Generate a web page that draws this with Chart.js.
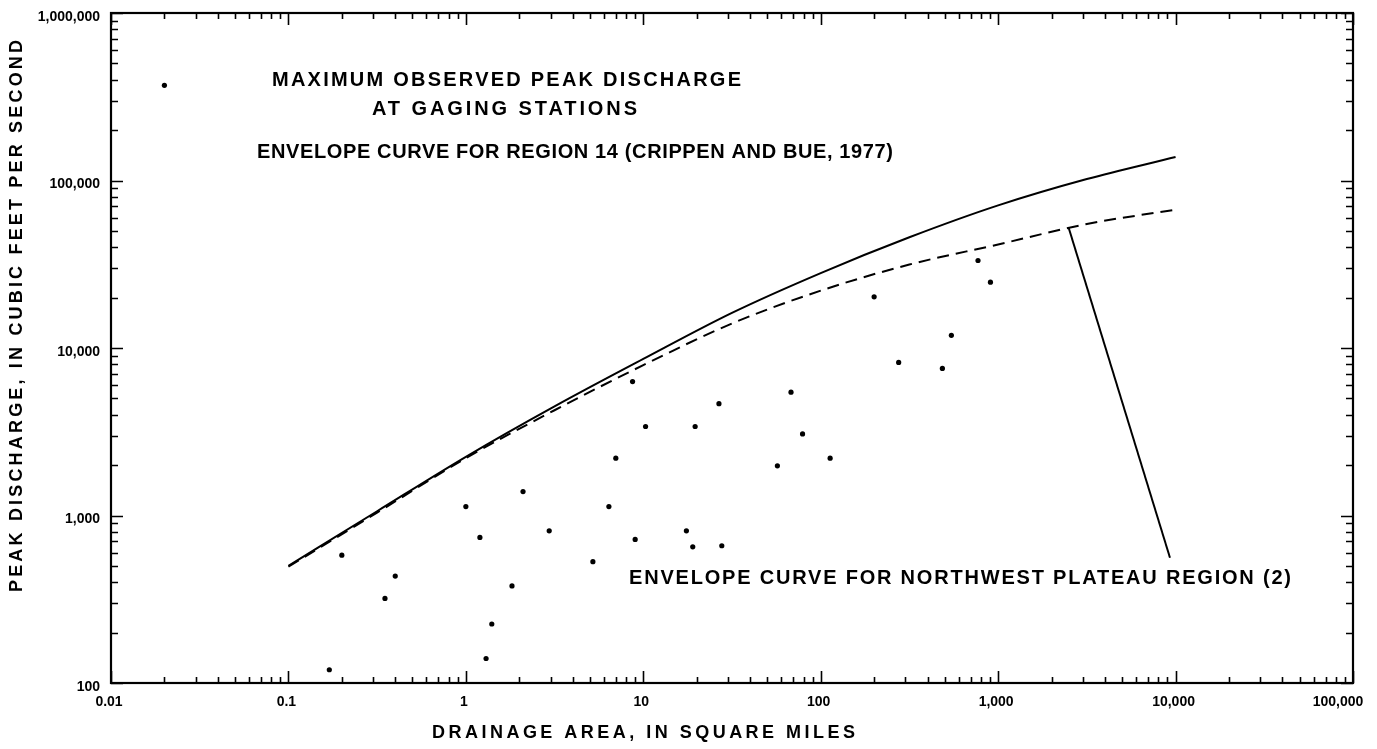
<!DOCTYPE html>
<html><head><meta charset="utf-8">
<script src="https://cdn.jsdelivr.net/npm/chart.js@4.4.1/dist/chart.umd.min.js"></script>
<style>html,body{margin:0;padding:0;background:#fff;}#wrap{width:1377px;height:749px;}</style>
</head><body><div id="wrap"><canvas id="c" width="1377" height="749"></canvas></div>
<script>
// ---- tick labels ----
const xTickValues = [0.01, 0.1, 1, 10, 100, 1000, 10000, 100000];
const xTickLabels = ['0.01', '0.1', '1', '10', '100', '1,000', '10,000', '100,000'];
const yTickValues = [100, 1000, 10000, 100000, 1000000];
const yTickLabels = ['100', '1,000', '10,000', '100,000', '1,000,000'];

// ---- maximum observed peak discharge at gaging stations ----
const stationArea = [0.17, 0.2, 0.35, 0.4, 1.0, 1.2, 1.3, 1.4, 1.82, 2.1, 2.95, 5.2, 6.4, 7.0, 8.7, 9.0, 10.3, 17.5, 19, 19.6, 26.7, 27.7, 57, 68, 79, 113, 200, 275, 485, 545, 770, 905];
const stationPeak = [120, 580, 320, 435, 1130, 740, 140, 225, 380, 1390, 810, 530, 1130, 2200, 6300, 720, 3400, 810, 650, 3400, 4650, 660, 1980, 5450, 3070, 2200, 20200, 8200, 7550, 11900, 33300, 24700];

// ---- envelope curve, region 14 (Crippen and Bue, 1977) ----
const region14Area = [0.1, 0.316, 1, 3.16, 10, 31.6, 100, 316, 1000, 3162, 10000];
const region14Peak = [500, 1060, 2240, 4480, 8600, 16200, 28000, 45800, 71000, 102000, 138000];

// ---- envelope curve, northwest plateau region (2) ----
const plateauArea = [0.1, 0.316, 1, 3.16, 10, 31.6, 100, 316, 1000, 3162, 10000];
const plateauPeak = [495, 1040, 2200, 4250, 7900, 14000, 22000, 31500, 41500, 55000, 67000];

// ---- legend symbol and leader line ----
const legendSymbolArea = [0.02];
const legendSymbolPeak = [370000];
const leaderArea = [2500, 9300];
const leaderPeak = [52000, 560];

const toXY = (xs, ys) => xs.map((v, i) => ({x: v, y: ys[i]}));

const FONT = "'Liberation Sans', Arial, sans-serif";

function drawFitted(ctx, text, left, right, cy, font) {
  ctx.font = font;
  ctx.letterSpacing = '0px';
  const w = ctx.measureText(text).width;
  const ls = (right - left - w) / (text.length - 1);
  ctx.letterSpacing = ls + 'px';
  ctx.textAlign = 'left';
  ctx.textBaseline = 'middle';
  ctx.fillText(text, left, cy);
  ctx.letterSpacing = '0px';
}

const annotations = [
  {text: 'MAXIMUM OBSERVED PEAK DISCHARGE', left: 272, right: 741, cy: 80},
  {text: 'AT GAGING STATIONS', left: 372, right: 637, cy: 109},
  {text: 'ENVELOPE CURVE FOR REGION 14 (CRIPPEN AND BUE, 1977)', left: 257, right: 893, cy: 152},
  {text: 'ENVELOPE CURVE FOR NORTHWEST PLATEAU REGION (2)', left: 629, right: 1291, cy: 578}
];

const framePlugin = {
  id: 'frameTicks',
  afterDraw(chart) {
    const {ctx, chartArea: a, scales: {x, y}} = chart;
    ctx.save();
    ctx.strokeStyle = '#000';
    ctx.fillStyle = '#000';
    ctx.lineWidth = 2.2;
    ctx.strokeRect(a.left, a.top, a.right - a.left, a.bottom - a.top);
    ctx.lineWidth = 1.6;
    ctx.beginPath();
    for (let e = -2; e <= 5; e++) {
      for (let m = 1; m <= 9; m++) {
        const v = m * Math.pow(10, e);
        if (v > 100000 * 1.0001) break;
        const px = Math.round(x.getPixelForValue(v)) + 0.5;
        const L = m === 1 ? 12 : 6;
        ctx.moveTo(px, a.bottom); ctx.lineTo(px, a.bottom - L);
        ctx.moveTo(px, a.top); ctx.lineTo(px, a.top + L);
      }
    }
    for (let e = 2; e <= 6; e++) {
      for (let m = 1; m <= 9; m++) {
        const v = m * Math.pow(10, e);
        if (v > 1000000 * 1.0001) break;
        const py = Math.round(y.getPixelForValue(v)) + 0.5;
        const L = m === 1 ? 12 : 7;
        ctx.moveTo(a.left, py); ctx.lineTo(a.left + L, py);
        ctx.moveTo(a.right, py); ctx.lineTo(a.right - L, py);
      }
    }
    ctx.stroke();

    // x tick labels
    ctx.font = 'bold 14px ' + FONT;
    ctx.textAlign = 'center';
    ctx.textBaseline = 'middle';
    xTickValues.forEach((v, i) => {
      const px = x.getPixelForValue(v);
      const cx = i === xTickValues.length - 1 ? px - 15 : px - 2;
      ctx.fillText(xTickLabels[i], cx, a.bottom + 19);
    });

    // annotation texts
    annotations.forEach(t => drawFitted(ctx, t.text, t.left, t.right, t.cy, 'bold 20px ' + FONT));

    // axis titles
    drawFitted(ctx, 'DRAINAGE AREA, IN SQUARE MILES', 432, 855, 733, 'bold 18px ' + FONT);
    ctx.save();
    ctx.translate(17, 316);
    ctx.rotate(-Math.PI / 2);
    drawFitted(ctx, 'PEAK DISCHARGE, IN CUBIC FEET PER SECOND', -276, 276, 0, 'bold 18px ' + FONT);
    ctx.restore();
    ctx.restore();
  }
};

new Chart(document.getElementById('c'), {
  type: 'scatter',
  data: {
    datasets: [
      {label: 'Region 14 envelope', data: toXY(region14Area, region14Peak), showLine: true,
       borderColor: '#000', borderWidth: 2, pointRadius: 0, cubicInterpolationMode: 'monotone', fill: false},
      {label: 'Northwest plateau envelope', data: toXY(plateauArea, plateauPeak), showLine: true,
       borderColor: '#000', borderWidth: 2, borderDash: [12, 7], pointRadius: 0, cubicInterpolationMode: 'monotone', fill: false},
      {label: 'Leader', data: toXY(leaderArea, leaderPeak), showLine: true,
       borderColor: '#000', borderWidth: 2, pointRadius: 0, fill: false},
      {label: 'Stations', data: toXY(stationArea, stationPeak), showLine: false,
       pointRadius: 2.6, pointBackgroundColor: '#000', pointBorderColor: '#000', pointBorderWidth: 0},
      {label: 'Legend symbol', data: toXY(legendSymbolArea, legendSymbolPeak), showLine: false,
       pointRadius: 2.6, pointBackgroundColor: '#000', pointBorderColor: '#000', pointBorderWidth: 0}
    ]
  },
  options: {
    responsive: false,
    animation: false,
    devicePixelRatio: 1,
    layout: {padding: {top: 13, right: 24, left: 0, bottom: 0}},
    plugins: {legend: {display: false}, tooltip: {enabled: false}},
    scales: {
      x: {
        type: 'logarithmic', min: 0.01, max: 100000,
        grid: {display: false, drawTicks: false}, border: {display: false},
        afterBuildTicks: s => { s.ticks = xTickValues.map(v => ({value: v})); },
        afterFit: s => { s.height = 66; s.paddingLeft = 0; s.paddingRight = 0; },
        ticks: {display: false}
      },
      y: {
        type: 'logarithmic', min: 100, max: 1000000,
        grid: {display: false, drawTicks: false}, border: {display: false},
        afterBuildTicks: s => { s.ticks = yTickValues.map(v => ({value: v})); },
        afterFit: s => { s.width = 111; s.paddingTop = 0; s.paddingBottom = 0; },
        ticks: {
          autoSkip: false, padding: 11, color: '#000', labelOffset: 4,
          font: {family: FONT, size: 14, weight: 'bold'},
          callback: (v, i) => yTickLabels[i]
        }
      }
    }
  },
  plugins: [framePlugin]
});
</script>
</body></html>
